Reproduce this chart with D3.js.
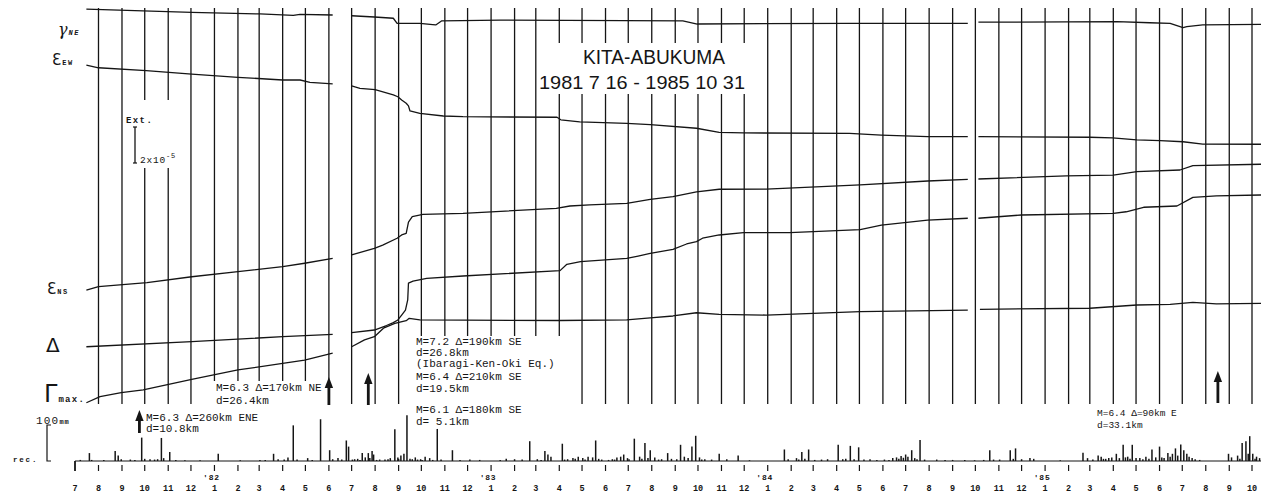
<!DOCTYPE html>
<html><head><meta charset="utf-8">
<script src="https://cdn.jsdelivr.net/npm/d3@7"></script>
<style>body{margin:0;background:#fff}svg{display:block}</style>
</head><body><svg id="c" width="1261" height="496"></svg>
<script>
// ---------- DATA ----------
const monthLabels = ["7","8","9","10","11","12",
 "1","2","3","4","5","6","7","8","9","10","11","12",
 "1","2","3","4","5","6","7","8","9","10","11","12",
 "1","2","3","4","5","6","7","8","9","10","11","12",
 "1","2","3","4","5","6","7","8","9","10"];
const yearLabels = ["'82","'83","'84","'85"];
const yearDates = ["1982-01-01","1983-01-01","1984-01-01","1985-01-01"];

// strain readings (units of 1e-6 on the chart's vertical scale); null = recording gap
const gammaNE = [
["1981-07-16",219.4],["1981-12-02",217.6],["1982-03-02",216.7],["1982-04-15",215.9],["1982-04-24",216.5],["1982-06-06",216.1],
["1982-06-20",null],
["1982-07-01",215.7],["1982-07-31",215.0],["1982-08-25",214.3],["1982-08-30",211.5],["1982-09-29",211.5],["1982-10-16",210.8],["1982-10-20",210.6],["1982-10-28",212.9],["1983-01-13",213.3],["1983-09-11",212.9],["1983-09-30",211.1],["1984-04-18",211.5],["1984-09-21",211.5],
["1984-09-28",null],
["1984-10-05",212.1],["1985-04-06",212.4],["1985-05-19",211.8],["1985-06-15",211.5],["1985-07-02",209.1],["1985-07-07",209.6],["1985-07-28",210.6],["1985-10-12",210.9],["1985-10-31",210.9]];

const epsEW = [
["1981-07-16",188.3],["1981-08-01",186.8],["1981-10-03",185.2],["1981-12-02",183.3],["1982-02-01",181.5],["1982-04-01",180.0],["1982-04-24",180.0],["1982-05-07",178.7],["1982-06-06",177.8],
["1982-06-20",null],
["1982-07-01",176.7],["1982-07-12",175.4],["1982-08-01",174.6],["1982-08-25",171.7],["1982-08-31",170.7],["1982-09-05",168.9],["1982-09-11",167.1],["1982-09-14",165.6],["1982-09-16",162.8],["1982-09-29",161.5],["1982-10-30",160.0],["1982-11-25",159.6],["1983-03-29",159.3],["1983-04-03",157.9],["1983-04-28",156.7],["1983-06-29",155.9],["1983-07-30",155.2],["1983-09-29",153.2],["1983-10-29",150.9],["1983-11-30",150.6],["1984-04-18",150.4],["1984-05-30",149.4],["1984-07-30",148.5],["1984-09-21",148.5],
["1984-09-28",null],
["1984-10-05",148.5],["1985-03-01",148.2],["1985-03-31",147.9],["1985-05-02",146.7],["1985-06-02",146.3],["1985-07-02",145.7],["1985-07-28",144.4],["1985-10-12",144.3],["1985-10-31",144.3]];

const epsNS = [
["1981-07-16",63.3],["1981-08-01",65.2],["1981-10-04",67.4],["1981-12-02",70.7],["1982-02-01",73.5],["1982-04-01",76.3],["1982-04-30",78.2],["1982-06-06",80.9],
["1982-06-20",null],
["1982-07-01",82.8],["1982-07-31",86.5],["1982-08-11",88.3],["1982-08-30",92.1],["1982-09-05",93.9],["1982-09-11",94.8],["1982-09-14",101.1],["1982-09-19",104.1],["1982-10-03",105.4],["1982-11-25",105.9],["1983-03-28",108.7],["1983-04-15",110.0],["1983-05-11",110.6],["1983-06-29",111.5],["1983-07-30",113.7],["1983-08-29",115.2],["1983-09-29",117.9],["1983-10-29",119.3],["1983-12-30",119.4],["1984-05-02",121.7],["1984-07-30",123.9],["1984-09-21",124.8],
["1984-09-28",null],
["1984-10-05",125.0],["1985-01-29",126.7],["1985-04-01",127.2],["1985-05-02",129.1],["1985-06-28",130.0],["1985-07-15",132.4],["1985-10-12",133.2],["1985-10-31",133.2]];

const delta = [
["1981-07-16",31.8],["1981-12-02",34.6],["1982-04-01",37.4],["1982-06-06",38.7],
["1982-06-20",null],
["1982-07-01",39.6],["1982-07-31",41.1],["1982-08-16",43.6],["1982-08-25",45.2],["1982-08-31",46.7],["1982-09-05",49.4],["1982-09-10",52.2],["1982-09-13",57.8],["1982-09-14",67.2],["1982-09-20",68.3],["1982-10-08",69.8],["1982-11-25",71.1],["1983-04-02",74.1],["1983-04-11",77.6],["1983-04-29",79.1],["1983-06-29",80.9],["1983-07-14",82.2],["1983-07-30",83.7],["1983-08-29",85.9],["1983-09-16",88.9],["1983-09-29",90.2],["1983-10-07",92.1],["1983-10-29",93.9],["1983-11-30",95.2],["1984-01-30",95.2],["1984-05-02",96.9],["1984-05-30",99.4],["1984-07-30",102.2],["1984-09-21",103.2],
["1984-09-28",null],
["1984-10-05",103.2],["1984-12-01",105.0],["1985-04-01",105.9],["1985-04-18",106.8],["1985-05-11",109.3],["1985-06-24",110.0],["1985-07-15",114.8],["1985-08-15",115.6],["1985-10-12",116.1],["1985-10-31",116.1]];

const gammaMax = [
["1981-07-16",0.7],["1981-08-03",4.1],["1981-08-31",6.3],["1981-09-29",7.8],["1981-12-02",13.7],["1982-02-01",18.9],["1982-04-01",22.6],["1982-04-30",24.4],["1982-06-06",28.2],
["1982-06-20",null],
["1982-07-01",31.8],["1982-07-18",35.6],["1982-07-31",37.4],["1982-08-12",42.1],["1982-08-27",44.8],["1982-09-11",46.3],["1982-09-15",47.6],["1982-09-29",46.7],["1983-04-02",46.4],["1983-06-29",46.7],["1983-07-30",47.9],["1983-08-29",48.9],["1983-09-29",50.7],["1983-10-29",49.8],["1983-12-30",49.4],["1984-03-01",50.4],["1984-05-02",51.3],["1984-09-21",52.2],
["1984-09-28",null],
["1984-10-07",52.6],["1985-03-01",53.2],["1985-05-02",55.0],["1985-06-15",55.4],["1985-07-15",56.5],["1985-08-15",55.6],["1985-10-12",55.9],["1985-10-31",55.9]];

// daily precipitation (mm)
const rain = [
["1981-07-08",3],["1981-07-20",22],["1981-07-23",3],["1981-08-08",3],["1981-08-23",28],["1981-08-27",15],["1981-08-31",5],["1981-09-12",4],["1981-09-18",3],["1981-09-27",65],["1981-10-01",6],["1981-10-08",5],["1981-10-14",4],["1981-10-18",5],["1981-10-23",64],["1981-10-26",8],["1981-11-03",25],["1981-11-11",3],["1981-11-23",2],["1981-12-13",2],
["1982-01-06",20],["1982-02-04",2],["1982-03-02",3],["1982-03-09",3],["1982-03-20",20],["1982-03-26",5],["1982-04-03",4],["1982-04-08",10],["1982-04-15",99],["1982-04-20",4],["1982-05-04",8],["1982-05-10",3],["1982-05-21",116],["1982-06-02",30],["1982-06-06",5],["1982-06-13",8],["1982-06-18",4],["1982-06-24",57],["1982-06-27",40],["1982-07-05",5],["1982-07-09",6],["1982-07-15",22],["1982-07-19",10],["1982-07-23",22],["1982-07-28",28],["1982-07-30",18],["1982-08-07",4],["1982-08-14",4],["1982-08-21",8],["1982-08-27",88],["1982-08-31",10],["1982-09-04",15],["1982-09-08",20],["1982-09-12",127],["1982-09-16",6],["1982-09-23",10],["1982-09-30",5],["1982-10-06",12],["1982-10-12",8],["1982-10-22",89],["1982-10-27",4],["1982-11-11",30],["1982-11-21",3],["1982-12-04",4],["1982-12-17",3],
["1983-01-13",3],["1983-01-21",6],["1983-02-01",5],["1983-02-11",4],["1983-02-21",55],["1983-03-03",5],["1983-03-13",28],["1983-03-17",18],["1983-03-21",12],["1983-04-05",48],["1983-04-12",5],["1983-04-19",8],["1983-04-26",12],["1983-05-02",8],["1983-05-09",12],["1983-05-15",10],["1983-05-19",57],["1983-05-27",4],["1983-06-10",5],["1983-06-16",10],["1983-06-21",12],["1983-06-25",18],["1983-06-30",8],["1983-07-09",62],["1983-07-16",12],["1983-07-23",50],["1983-07-30",30],["1983-08-05",10],["1983-08-14",5],["1983-08-22",22],["1983-08-27",6],["1983-09-08",45],["1983-09-13",12],["1983-09-23",40],["1983-09-28",70],["1983-10-03",10],["1983-10-10",5],["1983-10-19",4],["1983-10-29",20],["1983-11-08",5],["1983-11-23",15],["1983-12-08",2],
["1984-01-23",32],["1984-01-28",5],["1984-02-08",8],["1984-02-15",25],["1984-02-24",32],["1984-03-03",3],["1984-03-12",4],["1984-03-20",5],["1984-04-03",45],["1984-04-09",5],["1984-04-19",42],["1984-04-30",38],["1984-05-07",4],["1984-05-15",5],["1984-05-24",3],["1984-06-03",4],["1984-06-14",8],["1984-06-19",10],["1984-06-25",14],["1984-07-01",18],["1984-07-09",30],["1984-07-13",8],["1984-07-20",58],["1984-07-26",4],["1984-08-11",4],["1984-09-01",3],["1984-09-17",3],["1984-09-30",2],["1984-10-20",30],["1984-11-02",4],["1984-11-16",30],["1984-11-23",35],["1984-12-01",5],["1984-12-12",8],["1984-12-17",6],
["1985-01-21",2],["1985-02-20",23],["1985-02-26",8],["1985-03-12",15],["1985-03-16",12],["1985-03-22",6],["1985-03-30",10],["1985-04-05",20],["1985-04-14",45],["1985-04-20",12],["1985-04-26",45],["1985-05-06",8],["1985-05-14",12],["1985-05-22",32],["1985-05-27",10],["1985-06-01",40],["1985-06-07",8],["1985-06-12",22],["1985-06-18",20],["1985-06-22",35],["1985-06-29",46],["1985-07-03",30],["1985-07-07",20],["1985-07-14",8],["1985-07-24",3],["1985-08-31",20],["1985-09-04",10],["1985-09-12",15],["1985-09-18",50],["1985-09-23",55],["1985-09-28",69],["1985-10-02",20],["1985-10-07",12],["1985-10-11",8]];

// light rain days (small ticks on the record line)
const rainMinor = [
["1982-07-02",4],["1982-07-12",3],["1982-07-25",8],["1982-08-03",3],["1982-08-18",5],["1982-09-01",6],["1982-09-19",5],["1982-09-26",4],["1982-10-02",3],["1982-10-16",3],
["1983-03-08",3],["1983-04-08",4],["1983-04-22",6],["1983-05-05",4],["1983-05-23",6],["1983-06-05",3],["1983-06-13",4],["1983-07-02",5],["1983-07-19",6],["1983-07-27",8],["1983-08-10",4],["1983-09-03",5],["1983-09-18",8],["1983-10-06",4],
["1984-02-11",4],["1984-02-19",6],["1984-04-13",6],["1984-04-24",5],["1984-06-09",3],["1984-06-22",6],["1984-06-28",9],["1984-07-04",12],["1984-07-16",5],["1984-08-22",3],["1984-10-12",3],["1984-10-25",4],["1984-11-20",6],
["1985-03-05",4],["1985-03-19",6],["1985-03-26",8],["1985-04-09",8],["1985-04-17",10],["1985-04-23",6],["1985-05-01",8],["1985-05-10",5],["1985-05-18",6],["1985-06-04",10],["1985-06-15",12],["1985-06-25",15],["1985-07-10",12],["1985-07-18",5],["1985-09-15",6],["1985-09-26",20],["1985-10-05",6]];

// earthquakes marked by arrows
const quakeDates = ["1981-09-24","1982-06-01","1982-07-23","1985-08-17"];

// ---------- DRAW ----------
const svg = d3.select("#c");
const ink = "#151515";
const parse = d3.timeParse("%Y-%m-%d");
const x = d3.scaleTime().domain([new Date(1981,6,1), new Date(1985,9,1)]).range([75,1252]);
const y = d3.scaleLinear().domain([0,220]).range([404,8]);
const ry = d3.scaleLinear().domain([0,100]).range([461,425]);
const mono = "'Liberation Mono','DejaVu Sans Mono',monospace";

// vertical month lines
const gridMonths = d3.timeMonth.range(new Date(1981,7,1), new Date(1985,9,2));
svg.append("g").selectAll("line").data(gridMonths).join("line")
  .attr("x1",d=>x(d)).attr("x2",d=>x(d)).attr("y1",8).attr("y2",404)
  .attr("stroke",ink).attr("stroke-width",1.3);

// white masks behind text blocks (lines are interrupted in the original)
const masks = [[538,43,212,51],[124,100,62,68],[212,381,114,26],[414,336,150,70]];
svg.append("g").selectAll("rect").data(masks).join("rect")
  .attr("x",d=>d[0]).attr("y",d=>d[1]).attr("width",d=>d[2]).attr("height",d=>d[3]).attr("fill","#fff");

// strain curves
const line = d3.line().defined(d=>d[1]!==null).x(d=>x(parse(d[0]))).y(d=>y(d[1]));
[gammaNE, epsEW, epsNS, delta, gammaMax].forEach(s=>{
  svg.append("path").attr("d",line(s)).attr("fill","none").attr("stroke",ink).attr("stroke-width",1.3).attr("stroke-linejoin","round");
});

// title
svg.append("text").attr("x",583).attr("y",64).attr("textLength",142).attr("lengthAdjust","spacingAndGlyphs")
  .attr("font-family","'Liberation Sans',Arial,sans-serif").attr("font-size",20).attr("fill",ink).text("KITA-ABUKUMA");
svg.append("text").attr("x",539).attr("y",89).attr("textLength",206).attr("lengthAdjust","spacingAndGlyphs")
  .attr("font-family","'Liberation Sans',Arial,sans-serif").attr("font-size",19).attr("fill",ink).text("1981 7 16 - 1985 10 31");

// left labels
function lab(xx,yy,main,sub,fs,subfs,opts={}){
  const t = svg.append("text").attr("x",xx).attr("y",yy).attr("fill",ink)
    .attr("font-family",opts.family||"'DejaVu Serif',serif").attr("font-size",fs);
  if(opts.italic) t.attr("font-style","italic");
  t.append("tspan").text(main);
  if(sub) t.append("tspan").attr("font-family",mono).attr("font-size",subfs).attr("font-weight","bold")
    .attr("letter-spacing",opts.ls||1.5).attr("dx",1).text(sub);
}
lab(58,35,"γ","NE",16,7,{italic:true});
lab(52,65,"Ɛ","EW",15,7,{family:"'DejaVu Sans',sans-serif"});
lab(47,294,"Ɛ","NS",15,7,{family:"'DejaVu Sans',sans-serif"});
lab(46,352,"Δ","",20,0,{family:"'DejaVu Sans',sans-serif"});
lab(44,402,"Γ","max.",24,9,{family:"'DejaVu Sans',sans-serif",ls:1.3});

// extension scale bar
const barX = 135, barBottom = 163, barTop = barBottom - (y(0)-y(20));
svg.append("line").attr("x1",barX).attr("x2",barX).attr("y1",barTop).attr("y2",barBottom).attr("stroke",ink).attr("stroke-width",1.3);
[barTop,barBottom].forEach(v=>svg.append("line").attr("x1",barX-2).attr("x2",barX+2).attr("y1",v).attr("y2",v).attr("stroke",ink).attr("stroke-width",1.2));
svg.append("text").attr("x",126).attr("y",123).attr("font-family",mono).attr("font-size",9).attr("font-weight","bold")
  .attr("letter-spacing",1.4).attr("fill",ink).text("Ext.");
const sc = svg.append("text").attr("x",140).attr("y",163).attr("font-family",mono).attr("font-size",9.5).attr("letter-spacing",0.8).attr("fill",ink);
sc.append("tspan").text("2x10");
sc.append("tspan").attr("dy",-5).attr("font-size",7).text("-5");

// annotations
function note(xx,yy,lines,step,fs){
  const g = svg.append("g").attr("font-family",mono).attr("font-size",fs||11).attr("fill",ink);
  lines.forEach((s,i)=>g.append("text").attr("x",xx).attr("y",yy+(Array.isArray(step)?step[i]:i*step)).text(s));
}
note(416,345,["M=7.2 Δ=190km SE","d=26.8km","(Ibaragi-Ken-Oki Eq.)","M=6.4 Δ=210km SE","d=19.5km","M=6.1 Δ=180km SE","d= 5.1km"],[0,10.5,21.5,35,46.5,68,80]);
note(216,391,["M=6.3 Δ=170km NE","d=26.4km"],12.5);
note(146,420.5,["M=6.3 Δ=260km ENE","d=10.8km"],11.5);
note(1097,416,["M=6.4 Δ=90km  E","d=33.1km"],11.5,9.5);

// arrows
const arrowGeom = [[410,433],[377,405],[373,405],[371,403]];
quakeDates.forEach((d,i)=>{
  const ax = x(parse(d)), [tip,base] = arrowGeom[i];
  svg.append("rect").attr("x",ax-1.4).attr("y",tip+8).attr("width",2.8).attr("height",base-tip-8).attr("fill",ink);
  svg.append("path").attr("d",`M${ax-4.2},${tip+11}L${ax},${tip}L${ax+4.2},${tip+11}Z`).attr("fill",ink);
});

// rainfall panel
svg.append("line").attr("x1",75).attr("x2",1261).attr("y1",ry(0)).attr("y2",ry(0)).attr("stroke",ink).attr("stroke-width",1.2);
svg.append("g").selectAll("line").data(rain.concat(rainMinor)).join("line")
  .attr("x1",d=>x(parse(d[0]))).attr("x2",d=>x(parse(d[0])))
  .attr("y1",ry(0)).attr("y2",d=>ry(d[1])).attr("stroke",ink).attr("stroke-width",1.5);

// bracket + labels
svg.append("path").attr("d",`M51,${ry(100)}H47V${ry(0)}H51`).attr("fill","none").attr("stroke",ink).attr("stroke-width",1.2);
const hm = svg.append("text").attr("x",36).attr("y",424).attr("font-family",mono).attr("fill",ink);
hm.append("tspan").attr("font-size",11).attr("letter-spacing",1.2).text("100");
hm.append("tspan").attr("font-size",7).attr("font-weight","bold").attr("letter-spacing",0.8).text("mm");
svg.append("text").attr("x",13).attr("y",462).attr("font-family",mono).attr("font-size",7.5).attr("font-weight","bold")
  .attr("letter-spacing",1.8).attr("fill",ink).text("rec.");

// month ticks and labels
const tickMonths = d3.timeMonth.range(new Date(1981,6,1), new Date(1985,9,2));
svg.append("g").selectAll("line").data(tickMonths).join("line")
  .attr("x1",d=>x(d)).attr("x2",d=>x(d)).attr("y1",(d,i)=>i===0?ry(0):465).attr("y2",471)
  .attr("stroke",ink).attr("stroke-width",(d,i)=>i===0?1.8:1.2);
svg.append("g").selectAll("text").data(tickMonths).join("text")
  .attr("x",d=>x(d)).attr("y",491).attr("text-anchor","middle")
  .attr("font-family",mono).attr("font-size",8.5).attr("font-weight","bold").attr("fill",ink)
  .text((d,i)=>monthLabels[i]);
svg.append("g").selectAll("text").data(yearDates).join("text")
  .attr("x",d=>x(parse(d))-3).attr("y",480).attr("text-anchor","middle")
  .attr("font-family",mono).attr("font-size",8).attr("font-weight","bold").attr("letter-spacing",0.8).attr("fill",ink)
  .text((d,i)=>yearLabels[i]);
</script></body></html>
